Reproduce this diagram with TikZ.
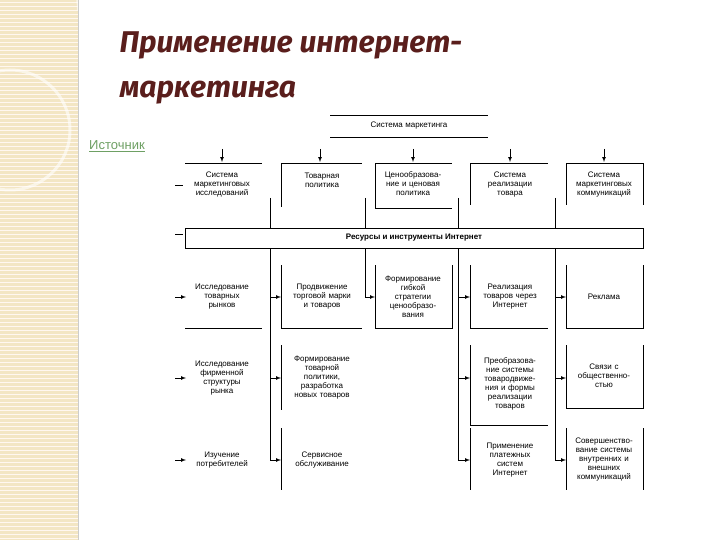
\documentclass[tikz,border=0pt]{standalone}
\usepackage{fontspec}
\setmainfont{Liberation Sans}
\newfontfamily\titlefont{Fira Sans}
\begin{document}
\begin{tikzpicture}[x=1pt,y=-1pt,
  lbl/.style={font=\fontsize{8}{9}\selectfont,align=center,text width=80pt,inner sep=0pt},
  ln/.style={line width=0.7pt},
  arr/.style={ln,-latex}]
\useasboundingbox (0,0) rectangle (720,540);
\fill[white] (0,0) rectangle (720,540);
% decorative strip
\fill[fill={rgb,255:red,243;green,230;blue,196}] (0,0) rectangle (78,540);
\foreach \y in {2,6,...,538} \draw[white!60!orange!15,line width=0.6pt] (0,\y) -- (78,\y);
\draw[white,line width=3pt,opacity=0.6] (10,130) circle (60);
\draw[white,line width=2pt,opacity=0.6] (78,10) arc (0:-120:70);
\draw[gray!40] (78,0) -- (78,540);
% title
\node[anchor=west,font=\titlefont\bfseries\itshape\fontsize{30}{34}\selectfont,text={rgb,255:red,90;green,30;blue,28}] (t1) at (116,45) {Применение интернет-};
\node[anchor=west,font=\titlefont\bfseries\itshape\fontsize{30}{34}\selectfont,text={rgb,255:red,90;green,30;blue,28}] (t2) at (116,93) {маркетинга};
\node[anchor=west,font=\fontsize{13}{15}\selectfont,text={rgb,255:red,110;green,160;blue,100},inner sep=1pt] (src) at (88,146) {\underline{Источник}};
% top box
\draw[ln] (330,115) -- (488,115) (330,137) -- (488,137);
\node[lbl,text width=150pt] (sys) at (409,126) {Система маркетинга};
% top row
\foreach \x in {222,320,413,510,604} \draw[arr] (\x,149) -- (\x,162);
\draw[ln] (185,163) -- (262,163);
\draw[ln] (281,207) -- (281,163) -- (362,163);
\draw[ln] (375,208) -- (375,163) -- (452,163);
\draw[ln] (470,205) -- (470,163) -- (548,163);
\draw[ln] (566,205) -- (566,163) -- (643,163) -- (643,205);
\node[lbl] (a1) at (222,185) {Система\\маркетинговых\\исследований};
\node[lbl] (a2) at (322,180) {Товарная\\политика};
\node[lbl] (a3) at (413,184) {Ценообразова-\\ние и ценовая\\политика};
\node[lbl] (a4) at (510,185) {Система\\реализации\\товара};
\node[lbl] (a5) at (604,185) {Система\\маркетинговых\\коммуникаций};
\draw[ln] (175,185) -- (183,185) (175,234) -- (183,234);
% spines above bar
\foreach \x in {270,365,458,555} \draw[ln] (\x,198) -- (\x,228);
\draw[ln] (375,208) -- (452,208);
% bar
\draw[ln] (185,228) rectangle (643,248);
\node[font=\bfseries\fontsize{8}{9}\selectfont] (bar) at (414,238) {Ресурсы и инструменты Интернет};
% spines below bar
\draw[ln] (270,248) -- (270,460);
\draw[ln] (365,248) -- (365,297);
\draw[ln] (458,248) -- (458,460);
\draw[ln] (555,248) -- (555,460);
% row boxes
\draw[ln] (185,328) -- (262,328);
\draw[ln] (281,265) -- (281,328) -- (362,328);
\draw[ln] (375,265) -- (375,328) -- (452,328) -- (452,265);
\draw[ln] (470,265) -- (470,328) -- (548,328);
\draw[ln] (566,265) -- (566,328) -- (643,328) -- (643,265);
\draw[ln] (281,345) -- (281,410);
\draw[ln] (470,345) -- (470,425) -- (548,425);
\draw[ln] (566,345) -- (566,408) -- (643,408) -- (643,345);
\draw[ln] (281,428) -- (281,490);
\draw[ln] (470,428) -- (470,490);
\draw[ln] (566,428) -- (566,490);
\draw[ln] (643,428) -- (643,490);
% arrows
\foreach \y in {297,378,460} \draw[arr] (175,\y) -- (186,\y);
\foreach \y in {297,378,460} \draw[arr] (270,\y) -- (281,\y);
\draw[arr] (365,297) -- (375,297);
\foreach \y in {297,378,460} \draw[arr] (458,\y) -- (470,\y);
\foreach \y in {297,378,460} \draw[arr] (555,\y) -- (566,\y);
% texts
\node[lbl] (b11) at (222,297) {Исследование\\товарных\\рынков};
\node[lbl] (b12) at (222,378) {Исследование\\фирменной\\структуры\\рынка};
\node[lbl] (b13) at (222,460) {Изучение\\потребителей};
\node[lbl] (b21) at (322,297) {Продвижение\\торговой марки\\и товаров};
\node[lbl] (b22) at (322,378) {Формирование\\товарной\\политики,\\разработка\\новых товаров};
\node[lbl] (b23) at (322,460) {Сервисное\\обслуживание};
\node[lbl] (b31) at (413,297) {Формирование\\гибкой\\стратегии\\ценообразо-\\вания};
\node[lbl] (b41) at (510,297) {Реализация\\товаров через\\Интернет};
\node[lbl] (b42) at (510,384) {Преобразова-\\ние системы\\товародвиже-\\ния и формы\\реализации\\товаров};
\node[lbl] (b43) at (510,460) {Применение\\платежных\\систем\\Интернет};
\node[lbl] (b51) at (604,297) {Реклама};
\node[lbl] (b52) at (604,376) {Связи с\\общественно-\\стью};
\node[lbl] (b53) at (604,460) {Совершенство-\\вание системы\\внутренних и\\внешних\\коммуникаций};
\end{tikzpicture}
\end{document}
